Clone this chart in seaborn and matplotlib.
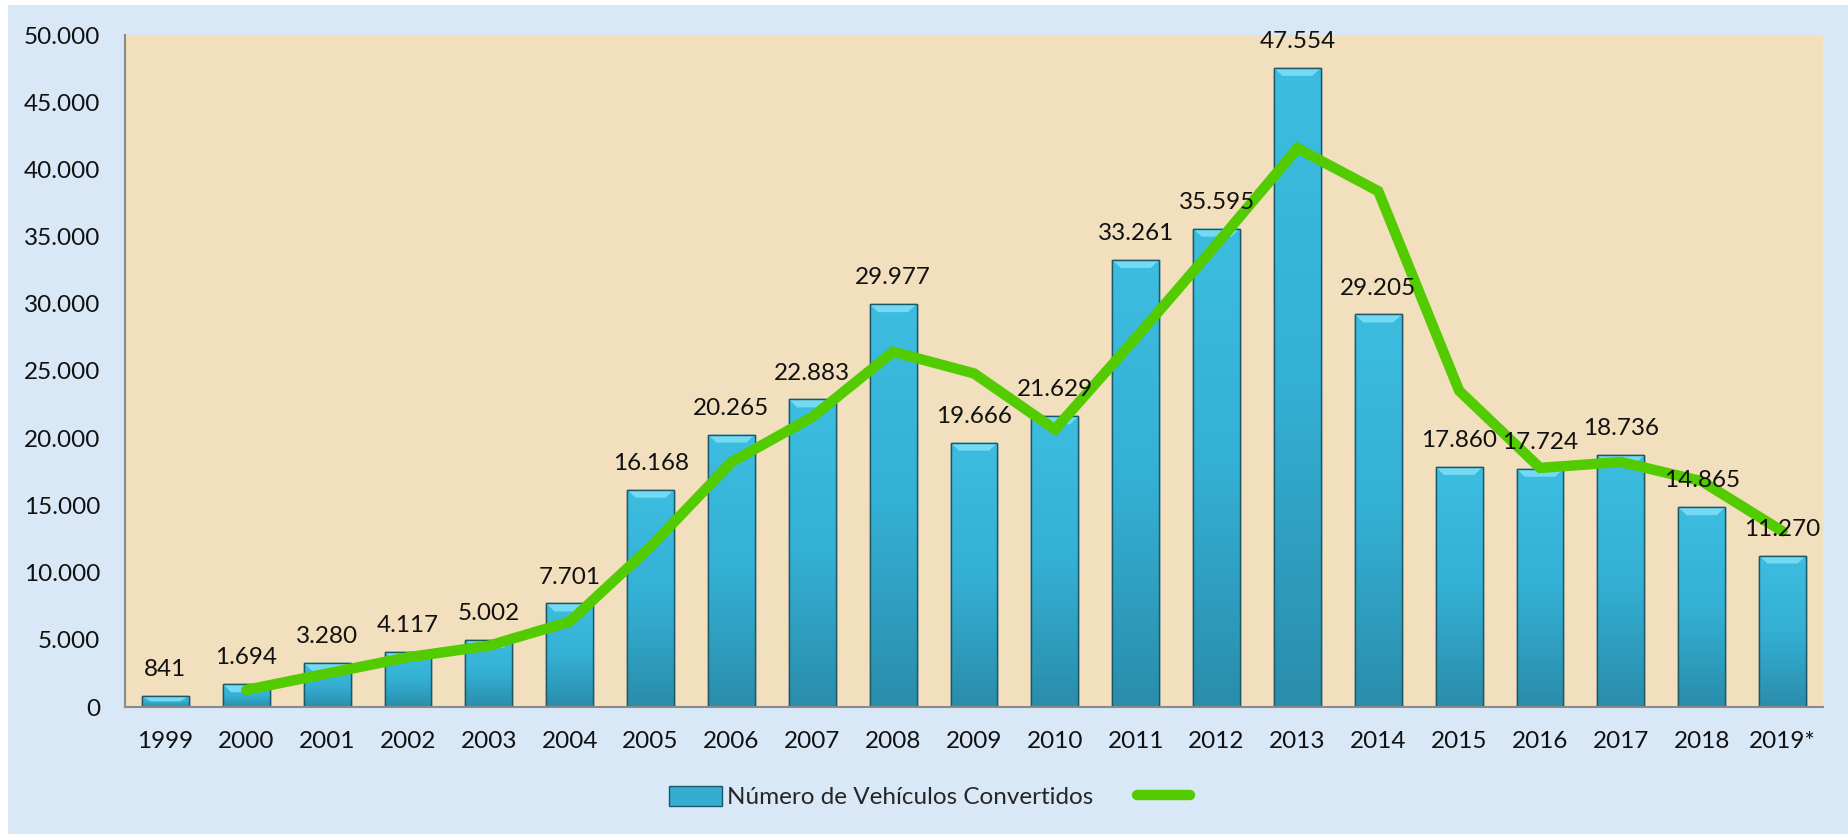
import numpy as np
import matplotlib
matplotlib.use("Agg")
import matplotlib.pyplot as plt
from matplotlib.patches import Rectangle, Patch
from matplotlib.lines import Line2D
from matplotlib.colors import LinearSegmentedColormap
import seaborn as sns

# datos
anios = ["1999", "2000", "2001", "2002", "2003", "2004", "2005", "2006", "2007", "2008",
         "2009", "2010", "2011", "2012", "2013", "2014", "2015", "2016", "2017", "2018", "2019*"]
vehiculos = [841, 1694, 3280, 4117, 5002, 7701, 16168, 20265, 22883, 29977,
             19666, 21629, 33261, 35595, 47554, 29205, 17860, 17724, 18736, 14865, 11270]

# linea verde (tendencia), estimada a ojo desde 2000
anios_linea = anios[1:]
tendencia = [1270, 2490, 3700, 4560, 6350, 11930, 18220, 21570, 26430, 24820,
             20650, 27450, 34430, 41570, 38380, 23530, 17790, 18230, 16800, 13070]

etiqueta_barras = "Número de Vehículos Convertidos"

azul_fondo = "#d9e8f6"
beige = "#f1dfbd"
verde = "#52cc00"

sns.set_style("white")
plt.rcParams["font.family"] = ["Lato", "DejaVu Sans"]

W, H = 1849, 834
fig = plt.figure(figsize=(W / 100, H / 100), dpi=100, facecolor="white")
fig.add_artist(Rectangle((8 / W, 0), 1, 1 - 5 / H, transform=fig.transFigure,
                         facecolor=azul_fondo, edgecolor="none", zorder=-10))
ax = fig.add_axes([125 / W, 1 - 707 / H, (1823 - 125) / W, (707 - 35) / H])
ax.set_facecolor(beige)

sns.barplot(x=anios, y=vehiculos, width=0.58, color="#31a9cc",
            edgecolor="#1d5767", linewidth=1, ax=ax, zorder=2)

# degradado y bisel en las barras
cmap = LinearSegmentedColormap.from_list("barra", ["#3cbde0", "#34b0d4", "#2a8dab"])
grad = np.linspace(0, 1, 256).reshape(-1, 1)
alto_bisel = 8 * 50000 / 672
for p in list(ax.patches):
    x0, y0 = p.get_x(), p.get_y()
    w, h = p.get_width(), p.get_height()
    im = ax.imshow(grad, cmap=cmap, aspect="auto", origin="upper",
                   extent=(x0, x0 + w, y0, y0 + h), zorder=2.1, interpolation="bilinear")
    im.set_clip_path(p)
    b = min(alto_bisel, h * 0.5)
    ax.fill([x0, x0 + w, x0 + w - w * 0.18, x0 + w * 0.18],
            [y0 + h, y0 + h, y0 + h - b, y0 + h - b],
            color="#74d9f2", zorder=2.2, lw=0)
    ax.add_patch(Rectangle((x0, y0), w, h, fill=False, edgecolor="#1d5767",
                           linewidth=1, zorder=2.3))

# linea de tendencia
x_linea = [anios.index(a) for a in anios_linea]
sns.lineplot(x=x_linea, y=tendencia, color=verde, linewidth=7.5, ax=ax, zorder=3,
             solid_joinstyle="miter", solid_capstyle="round")

# etiquetas de datos
for i, v in enumerate(vehiculos):
    ax.annotate(f"{v:,}".replace(",", "."), (i, v), xytext=(0, 19), textcoords="offset points",
                ha="center", va="center", fontsize=17.5, color="#111111", zorder=4)

ax.set_xlim(-0.5, len(anios) - 0.5)
ax.set_ylim(0, 50000)
ax.set_yticks(range(0, 50001, 5000))
ax.set_yticklabels([f"{t:,}".replace(",", ".") for t in range(0, 50001, 5000)])
ax.tick_params(axis="both", length=0, labelsize=17.5, colors="#111111")
ax.tick_params(axis="y", pad=18)
ax.tick_params(axis="x", pad=17)
for s in ["top", "right"]:
    ax.spines[s].set_visible(False)
for s in ["left", "bottom"]:
    ax.spines[s].set_color("#8a8a8a")
    ax.spines[s].set_linewidth(1.5)
    ax.spines[s].set_zorder(5)
ax.set_xlabel("")
ax.set_ylabel("")

handles = [Patch(facecolor="#33aed2", edgecolor="#1d5767"),
           Line2D([0], [0], color=verde, linewidth=7.5, solid_capstyle="round")]
fig.legend(handles, [etiqueta_barras, " "], loc="center", bbox_to_anchor=(935 / W, 1 - 797 / H),
           ncol=2, frameon=False, fontsize=17.5, handlelength=2.2, handleheight=0.9,
           handletextpad=0.2, columnspacing=1.8)

fig.savefig("out.png", dpi=100, facecolor=fig.get_facecolor())
